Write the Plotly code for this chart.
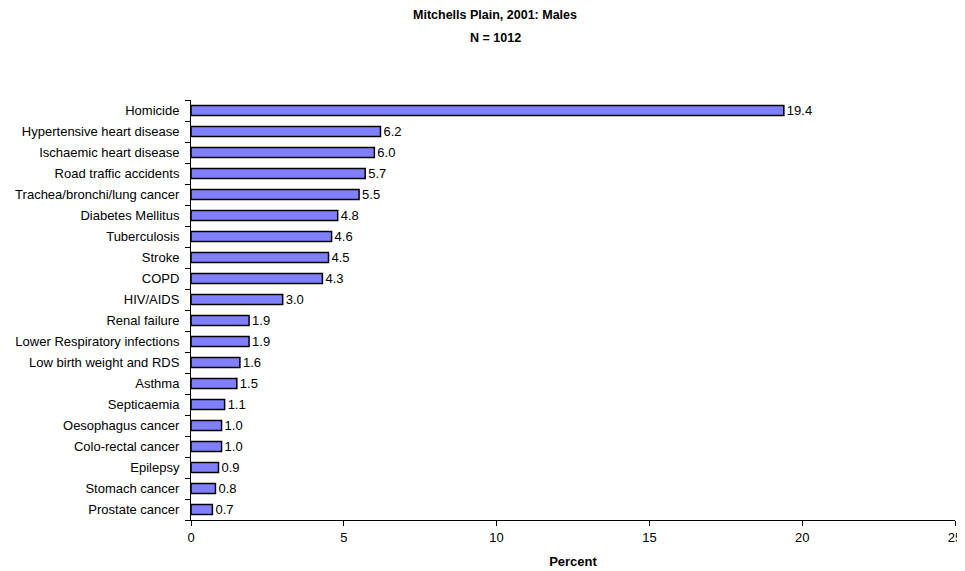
import plotly.graph_objects as go

causes = ["Homicide", "Hypertensive heart disease", "Ischaemic heart disease",
          "Road traffic accidents", "Trachea/bronchi/lung cancer", "Diabetes Mellitus",
          "Tuberculosis", "Stroke", "COPD", "HIV/AIDS", "Renal failure",
          "Lower Respiratory infections", "Low birth weight and RDS", "Asthma",
          "Septicaemia", "Oesophagus cancer", "Colo-rectal cancer", "Epilepsy",
          "Stomach cancer", "Prostate cancer"]
percent = [19.4, 6.2, 6.0, 5.7, 5.5, 4.8, 4.6, 4.5, 4.3, 3.0, 1.9, 1.9, 1.6, 1.5,
           1.1, 1.0, 1.0, 0.9, 0.8, 0.7]
x_ticks = [0, 5, 10, 15, 20, 25]
title_lines = ["Mitchells Plain, 2001: Males", "N = 1012"]

font_family = "Liberation Sans, Arial, sans-serif"
OFF = 8  # default page body margin
W, H = 965 - OFF, 571 - OFF
# target plot area in page pixels: x 191..955, y 100..520
ML, MR = 191 - OFF, 965 - 955
MT, MB = 100 - OFF, 571 - 520
plot_w = W - ML - MR
plot_h = H - MT - MB

fig = go.Figure(go.Bar(
    x=percent, y=causes, orientation="h",
    marker=dict(color="#8080FF", line=dict(color="black", width=1.5)),
    text=[f"{v:.1f}" for v in percent], textposition="outside",
    textfont=dict(size=13, color="black", family=font_family),
    constraintext="none", cliponaxis=False,
))

fig.update_layout(
    width=W, height=H,
    margin=dict(l=ML, r=MR, t=MT, b=MB, autoexpand=False),
    plot_bgcolor="white", paper_bgcolor="white",
    font=dict(family=font_family, size=13, color="black"),
    bargap=0.52,
    showlegend=False,
)
title_cx = 495
for txt, ypix in zip(title_lines, [15, 38]):
    fig.add_annotation(text=f"<b>{txt}</b>", xref="paper", yref="paper",
                       x=(title_cx - 191) / plot_w, xanchor="center",
                       y=1 + (100 - ypix) / plot_h, yanchor="middle",
                       showarrow=False, font=dict(size=12.5, family=font_family))
fig.update_xaxes(range=[0, 25], tickvals=x_ticks, ticks="outside", ticklen=5,
                 tickcolor="black", showline=True, linecolor="black", linewidth=1,
                 showgrid=False, zeroline=False, automargin=False,
                 title=dict(text="<b>Percent</b>", font=dict(size=13), standoff=13))
fig.update_yaxes(categoryorder="array", categoryarray=causes[::-1],
                 ticks="outside", ticklen=5, tickcolor="black", tickson="boundaries",
                 showline=True, linecolor="black", linewidth=1, showgrid=False,
                 automargin=False, ticklabelstandoff=8)

fig.write_html("out.html")
